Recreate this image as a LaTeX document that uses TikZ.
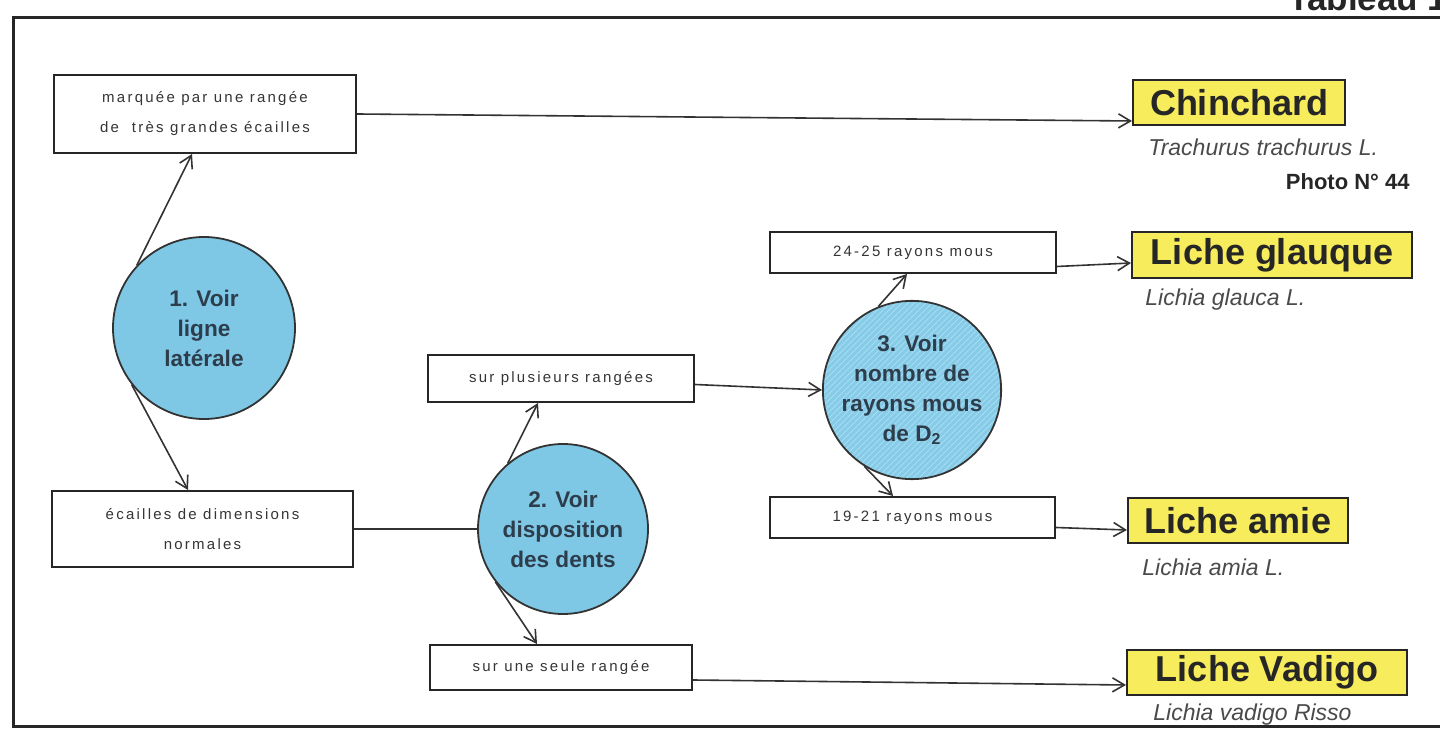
\documentclass[tikz,border=0pt]{standalone}
\usepackage{fontspec}
\setmainfont{Liberation Sans}
\newfontfamily\boxfont[LetterSpace=15]{Liberation Sans}
\usetikzlibrary{arrows.meta,calc,patterns}
\definecolor{circblue}{HTML}{7EC8E6}
\definecolor{circblueB}{HTML}{86CCE8}
\definecolor{hatchc}{HTML}{A8DCF0}
\definecolor{ylw}{HTML}{F7EC5C}
\definecolor{inkc}{HTML}{2E3D4C}
\definecolor{txtgray}{HTML}{353535}
\definecolor{itgray}{HTML}{4A4A4A}
\tikzset{
  frameline/.style={line width=1.5pt, draw=black!85},
  textbox/.style={draw=black!85, line width=1pt, fill=white, rectangle, inner sep=0pt,
    align=center, text=txtgray, font=\boxfont\fontsize{7.5}{15}\selectfont},
  stepcirc/.style={circle, draw=black!80, line width=0.9pt, fill=circblue, inner sep=0pt,
    align=center, text=inkc, font=\bfseries\fontsize{11.3}{15}\selectfont},
  fishbox/.style={draw=black!85, line width=1pt, fill=ylw, rectangle, inner sep=0pt,
    text=black!85, font=\bfseries\fontsize{18}{20}\selectfont},
  latin/.style={anchor=west, inner sep=0pt, text=itgray, font=\itshape\fontsize{11.5}{13}\selectfont},
  conn/.style={line width=0.8pt, draw=black!80},
  arr/.style={conn, -{Straight Barb[length=6pt,width=7pt,line width=0.8pt]}}
}
\begin{document}
\begin{tikzpicture}[x=0.5pt,y=-0.5pt]
\useasboundingbox (0,0) rectangle (1440,731);

% frame
\draw[frameline] (1440,18) -- (13,18) -- (13,726) -- (1440,726);
\node[anchor=base west, inner sep=0pt, text=black!85, font=\bfseries\fontsize{17.5}{20}\selectfont] (tab) at (1288,11) {Tableau 17};

% boxes
\node[textbox, minimum width=151pt, minimum height=39pt] (b1) at (205,114)
  {marquée par une rangée\\de~~très grandes écailles};
\node[textbox, minimum width=150.5pt, minimum height=38pt] (b2) at (202.5,529)
  {écailles de dimensions\\normales};
\node[textbox, minimum width=133pt, minimum height=23.5pt] (bsp) at (561,378.5)
  {sur plusieurs rangées};
\node[textbox, minimum width=131pt, minimum height=22.5pt] (bsu) at (561,667.5)
  {sur une seule rangée};
\node[textbox, minimum width=143pt, minimum height=20.5pt] (b24) at (913,252.5)
  {24-25 rayons mous};
\node[textbox, minimum width=142.5pt, minimum height=20.5pt] (b19) at (912.5,517.5)
  {19-21 rayons mous};

% circles
\node[stepcirc, minimum size=91pt] (c1) at (204,328) {1. Voir\\ligne\\latérale};
\node[stepcirc, minimum size=85pt] (c2) at (563,529) {2. Voir\\disposition\\des dents};
\node[stepcirc, fill=none, preaction={fill=circblueB},
  pattern=north east lines, pattern color=hatchc, minimum size=76pt] (c3) at (912,390)
  {3. Voir\\nombre de\\rayons mous\\de D\textsubscript{2}};

% result boxes
\node[fishbox, minimum width=106pt, minimum height=22.5pt] (ych) at (1239,102.5) {Chinchard};
\node[fishbox, minimum width=140pt, minimum height=23pt] (ygl) at (1272,255) {Liche glauque};
\node[fishbox, minimum width=110pt, minimum height=22.5pt] (yam) at (1238,520.5) {Liche amie};
\node[fishbox, minimum width=140pt, minimum height=22.5pt] (yva) at (1267,672.5) {Liche Vadigo};

% latin names
\node[latin] (lch) at (1148,147) {Trachurus trachurus L.};
\node[anchor=east, inner sep=0pt, text=black!85, font=\bfseries\fontsize{11}{13}\selectfont] (ph) at (1410,182) {Photo N° 44};
\node[latin] (lgl) at (1145,300) {Lichia glauca L.};
\node[latin] (lam) at (1142,567) {Lichia amia L.};
\node[latin] (lva) at (1153,715) {Lichia vadigo Risso};

% connectors
\draw[arr] (c1.137) -- ([xshift=-6.5pt]b1.south);
\draw[arr] (c1.218) -- ([xshift=-7.25pt]b2.north);
\draw[conn] (b2.east) -- (c2.west);
\draw[arr] (c2.130) -- ([xshift=-11.5pt]bsp.south);
\draw[arr] (c2.218) -- ([xshift=-12pt]bsu.north);
\draw[arr] ([yshift=-3pt]bsp.east) -- (c3.west);
\draw[arr] (c3.112) -- ([xshift=-3pt]b24.south);
\draw[arr] (c3.238) -- ([xshift=-9.75pt]b19.north);
\draw[arr] (b1.east) -- ([yshift=2.5pt]ych.south west);
\draw[arr] ([yshift=-7pt]b24.east) -- ([yshift=-4pt]ygl.west);
\draw[arr] ([yshift=-5pt]b19.east) -- ([yshift=-4.75pt]yam.west);
\draw[arr] ([yshift=-6.25pt]bsu.east) -- ([yshift=-6.25pt]yva.west);
\end{tikzpicture}
\end{document}
